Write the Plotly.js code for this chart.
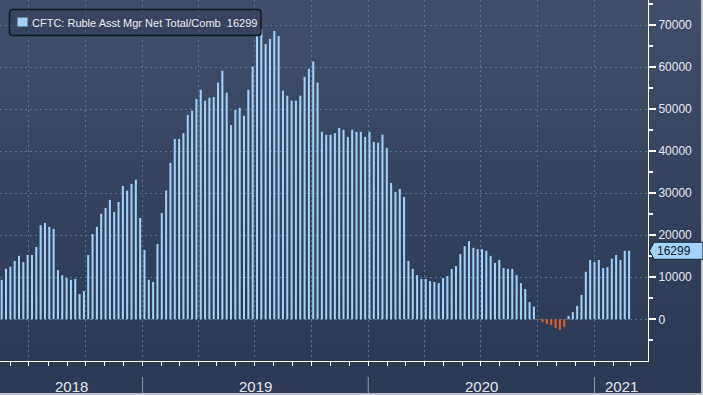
<!DOCTYPE html>
<html><head><meta charset="utf-8">
<script src="https://cdn.plot.ly/plotly-3.0.1.min.js"></script>
<style>
html,body{margin:0;padding:0;background:#2c3a55;}
#chart{width:703px;height:395px;background:linear-gradient(to bottom,#414e69 0px,#35435f 180px,#2b3955 361px,#2c3a55 395px);box-shadow:inset -2px -2px 0 #bfc3ca;}
</style></head><body><div id="chart"></div>
<script>
const seriesName = 'CFTC: Ruble Asst Mgr Net Total/Comb';
const firstWeek = '2018-05-18';
const netPositions = [
  9400, 12000, 12500, 13900, 15100, 13600, 15300, 15300, 17200, 22400,
  22900, 22000, 21500, 11700, 10500, 9800, 9400, 9600, 6000, 6700,
  15300, 20300, 22000, 25100, 26500, 28400, 25500, 27900, 31700, 30600,
  32200, 33200, 24100, 16500, 9400, 8900, 17900, 25300, 30600, 37200,
  42900, 42900, 44300, 48600, 49600, 52400, 54600, 52000, 52700, 52900,
  56300, 59100, 53900, 46200, 49800, 50300, 48400, 54600, 60100, 67400,
  69100, 65500, 66700, 68600, 67400, 54400, 53200, 52000, 52000, 53200,
  57700, 59600, 61300, 56300, 44600, 43900, 43900, 44300, 45500, 45100,
  43400, 45100, 44600, 44600, 43400, 44600, 42200, 42000, 43900, 40800,
  32400, 30300, 31000, 29100, 13900, 12000, 10500, 9600, 9600, 9100,
  8900, 8600, 9800, 10300, 12000, 12700, 15500, 17400, 18600, 17000,
  16700, 16700, 16300, 15100, 13400, 14100, 12200, 12000, 12000, 10500,
  8600, 7200, 4100, 3000, -150, -600, -1100, -1400, -2100, -2500,
  -1800, 800, 1700, 3200, 5800, 11300, 14100, 13600, 14100, 12200,
  12400, 14400, 15300, 14100, 16300, 16299
];
const yearLabels = ['2018', '2019', '2020', '2021'];
const yTickValues = [0, 10000, 20000, 30000, 40000, 50000, 60000, 70000];
const xRange = ['2018-05-15 06:00', '2021-03-28 14:00'];
const yRange = [-9920, 75950];

const DAY = 86400000;
const t0 = new Date(firstWeek + 'T00:00:00Z').getTime();
const dates = netPositions.map((_, i) => new Date(t0 + i * 7 * DAY).toISOString().slice(0, 10));
const lastVal = netPositions[netPositions.length - 1];

const BLUE = '#a2d2fb', ORANGE = '#e0622a';
const colors = netPositions.map(v => v < 0 ? ORANGE : BLUE);

const trace = {
  type: 'bar', x: dates, y: netPositions, name: seriesName,
  marker: {color: colors, line: {width: 0}}, hoverinfo: 'skip', showlegend: false
};

const toMs = s => new Date(s.replace(' ', 'T') + ':00Z').getTime();
const rs = toMs(xRange[0]), re = toMs(xRange[1]);
const annotations = [];
const shapes = [];
yearLabels.forEach(y => {
  const a = Math.max(rs, Date.UTC(+y, 0, 1)), b = Math.min(re, Date.UTC(+y + 1, 0, 1));
  annotations.push({
    xref: 'x', yref: 'paper', x: new Date((a + b) / 2).toISOString(), y: -25 / 361,
    xanchor: 'center', yanchor: 'middle', showarrow: false, text: y,
    font: {family: 'Liberation Sans Narrow, Liberation Sans', size: 15, color: '#e6e8ec'}
  });
  if (+y > 2018) {
    shapes.push({type: 'line', xref: 'x', yref: 'paper', x0: y + '-01-01', x1: y + '-01-01',
      y0: -16 / 361, y1: -32 / 361, line: {color: '#8d98aa', width: 1}});
  }
});
// legend box
shapes.push({type: 'path', xref: 'paper', yref: 'paper', xsizemode: 'pixel', ysizemode: 'pixel',
  xanchor: 0, yanchor: 1, layer: 'above',
  path: 'M12.5,-9.5 L258,-9.5 Q261,-9.5 261,-12.5 L261,-32.5 Q261,-35.5 258,-35.5 L12.5,-35.5 Q9.5,-35.5 9.5,-32.5 L9.5,-12.5 Q9.5,-9.5 12.5,-9.5 Z',
  fillcolor: 'rgba(30,40,58,0.25)', line: {color: '#10161f', width: 1.5}});
shapes.push({type: 'path', xref: 'paper', yref: 'paper', xsizemode: 'pixel', ysizemode: 'pixel',
  xanchor: 0, yanchor: 1, layer: 'above',
  path: 'M17.5,-17.5 L27.5,-17.5 L27.5,-26.5 L17.5,-26.5 Z', fillcolor: BLUE, line: {width: 0}});
annotations.push({xref: 'paper', yref: 'paper', x: 0, y: 1, xanchor: 'left', yanchor: 'middle',
  xshift: 30, yshift: -22.5, showarrow: false, text: seriesName + '\u00a0\u00a0' + lastVal,
  font: {family: 'Liberation Sans', size: 11, color: '#e9ebee'}});
// last value tag
shapes.push({type: 'path', xref: 'paper', yref: 'y', xsizemode: 'pixel', ysizemode: 'pixel',
  xanchor: 1, yanchor: lastVal, layer: 'above',
  path: 'M1.5,0 L6,8.5 L55,8.5 L55,-8.5 L6,-8.5 Z', fillcolor: '#a3d4fb', line: {color: '#16213a', width: 1}});
annotations.push({xref: 'paper', yref: 'y', x: 1, y: lastVal, xanchor: 'left', yanchor: 'middle',
  xshift: 7, showarrow: false, text: String(lastVal),
  font: {family: 'Liberation Sans', size: 12, color: '#0b1527'}});

const gridDash = '2px,3px', gridColor = '#5d7190';
const layout = {
  width: 703, height: 395, margin: {l: 0, r: 55, t: 0, b: 34},
  paper_bgcolor: 'rgba(0,0,0,0)', plot_bgcolor: 'rgba(0,0,0,0)',
  bargap: 0.53, showlegend: false,
  xaxis: {type: 'date', range: xRange, tickmode: 'linear', tick0: '2018-01-01', dtick: 'M3',
    showticklabels: false, ticks: 'outside', ticklen: 4, tickcolor: '#ffffff', tickwidth: 1,
    showline: true, linecolor: '#ffffff', linewidth: 1,
    showgrid: true, gridcolor: gridColor, griddash: gridDash, gridwidth: 1, zeroline: false,
    minor: {tickmode: 'linear', tick0: '2018-01-01', dtick: 'M1', ticks: 'outside', ticklen: 4,
      tickcolor: '#ffffff', showgrid: false}},
  yaxis: {side: 'right', range: yRange, tickmode: 'array', tickvals: yTickValues, tickformat: 'd',
    ticks: 'outside', ticklen: 7, tickwidth: 2, tickcolor: '#ffffff',
    showline: true, linecolor: '#ffffff', linewidth: 1,
    showgrid: true, gridcolor: gridColor, griddash: gridDash, gridwidth: 1, zeroline: false,
    tickfont: {family: 'Liberation Sans', size: 12, color: '#e6e8ec'},
    minor: {tickmode: 'linear', tick0: 0, dtick: 5000, ticks: 'outside', ticklen: 4,
      tickcolor: '#ffffff', showgrid: false}},
  shapes: shapes, annotations: annotations
};
Plotly.newPlot('chart', [trace], layout, {staticPlot: true, displayModeBar: false});
</script></body></html>
